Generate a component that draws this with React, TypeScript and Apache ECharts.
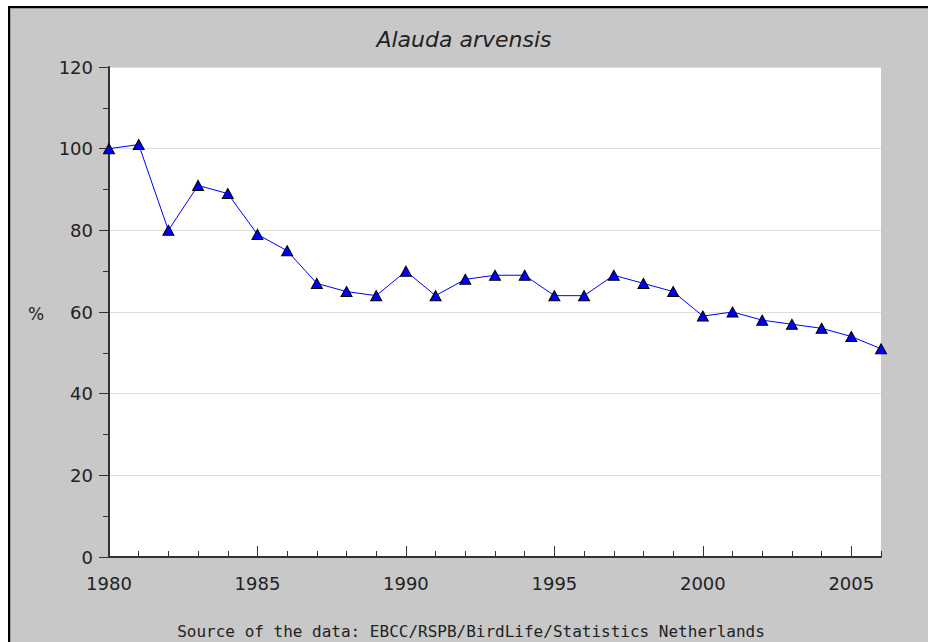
import React, { useEffect, useRef } from "react";
import * as echarts from "echarts";

const years = [1980, 1981, 1982, 1983, 1984, 1985, 1986, 1987, 1988, 1989, 1990, 1991, 1992, 1993, 1994, 1995, 1996, 1997, 1998, 1999, 2000, 2001, 2002, 2003, 2004, 2005, 2006];
const values = [100, 101, 80, 91, 89, 79, 75, 67, 65, 64, 70, 64, 68, 69, 69, 64, 64, 69, 67, 65, 59, 60, 58, 57, 56, 54, 51];
const xLabels = [1980, 1985, 1990, 1995, 2000, 2005];
const titleText = "Alauda arvensis";
const yName = "%";
const sourceText = "Source of the data: EBCC/RSPB/BirdLife/Statistics Netherlands";

const W = 928;
const H = 642;
const GRID = { left: 109, right: 47, top: 67, bottom: 85 };
const FONT = "DejaVu Sans";

export default function App() {
  const ref = useRef<HTMLDivElement>(null);
  useEffect(() => {
    if (!ref.current) return;
    const chart = echarts.init(ref.current, null, { renderer: "svg" });
    const plotH = H - GRID.top - GRID.bottom;
    chart.setOption({
      animation: false,
      backgroundColor: "#ffffff",
      title: {
        text: titleText,
        left: "center",
        top: 23,
        textStyle: { fontFamily: FONT, fontStyle: "italic", fontWeight: "normal", fontSize: 22, color: "#222" },
      },
      graphic: [
        {
          type: "rect",
          z: -10,
          shape: { x: 9, y: 7, width: W + 20, height: H + 20 },
          style: { fill: "#c8c8c8", stroke: "#000", lineWidth: 2 },
        },
        {
          type: "polyline",
          z: -9,
          shape: { points: [[10.5, H + 5], [10.5, 8.5], [W + 5, 8.5]] },
          style: { stroke: "#9a9a9a", lineWidth: 1, fill: null },
        },
        {
          type: "text",
          x: 36,
          y: 314,
          style: { text: yName, fontFamily: FONT, fontSize: 17, fill: "#222", align: "center", verticalAlign: "middle" },
        },
        {
          type: "text",
          x: 471,
          y: 631,
          style: { text: sourceText, fontFamily: "DejaVu Sans Mono", fontSize: 16, fill: "#222", align: "center", verticalAlign: "middle" },
        },
      ],
      grid: {
        left: GRID.left,
        right: GRID.right,
        top: GRID.top,
        bottom: GRID.bottom,
        show: true,
        backgroundColor: "#ffffff",
        borderWidth: 0,
      },
      xAxis: [
        {
          type: "value",
          min: 1980,
          max: 2006,
          interval: 1,
          position: "bottom",
          axisLine: { show: true, lineStyle: { color: "#333", width: 2 } },
          axisTick: { show: true, inside: true, length: 6, lineStyle: { color: "#333", width: 1 } },
          axisLabel: {
            customValues: xLabels,
            fontFamily: FONT,
            fontSize: 18,
            color: "#222",
            margin: 17,
            formatter: (v: number) => String(v),
          },
          splitLine: { show: false },
        },
        {
          type: "value",
          min: 1980,
          max: 2006,
          interval: 5,
          position: "top",
          offset: -plotH,
          axisLine: { show: false },
          axisTick: { show: true, inside: false, length: 11, customValues: xLabels, lineStyle: { color: "#333", width: 1 } },
          axisLabel: { show: false },
          splitLine: { show: false },
        },
      ],
      yAxis: {
        type: "value",
        min: 0,
        max: 120,
        interval: 20,
        axisLine: { show: true, lineStyle: { color: "#333", width: 2 } },
        axisTick: { show: true, inside: false, length: 10, lineStyle: { color: "#333", width: 1 } },
        minorTick: { show: true, splitNumber: 2, length: 6, lineStyle: { color: "#333", width: 1 } },
        axisLabel: { fontFamily: FONT, fontSize: 18, color: "#222", margin: 16 },
        splitLine: { show: true, lineStyle: { color: "#dddddd", width: 1 } },
      },
      series: [
        {
          type: "line",
          xAxisIndex: 0,
          data: years.map((y, i) => [y, values[i]]),
          clip: false,
          symbol: "triangle",
          symbolSize: [11, 10],
          lineStyle: { color: "#0000ff", width: 1 },
          itemStyle: { color: "#0000ff", borderColor: "#000", borderWidth: 1 },
        },
      ],
    });
    return () => chart.dispose();
  }, []);
  return <div ref={ref} style={{ position: "fixed", left: 0, top: 0, width: W, height: H }} />;
}
